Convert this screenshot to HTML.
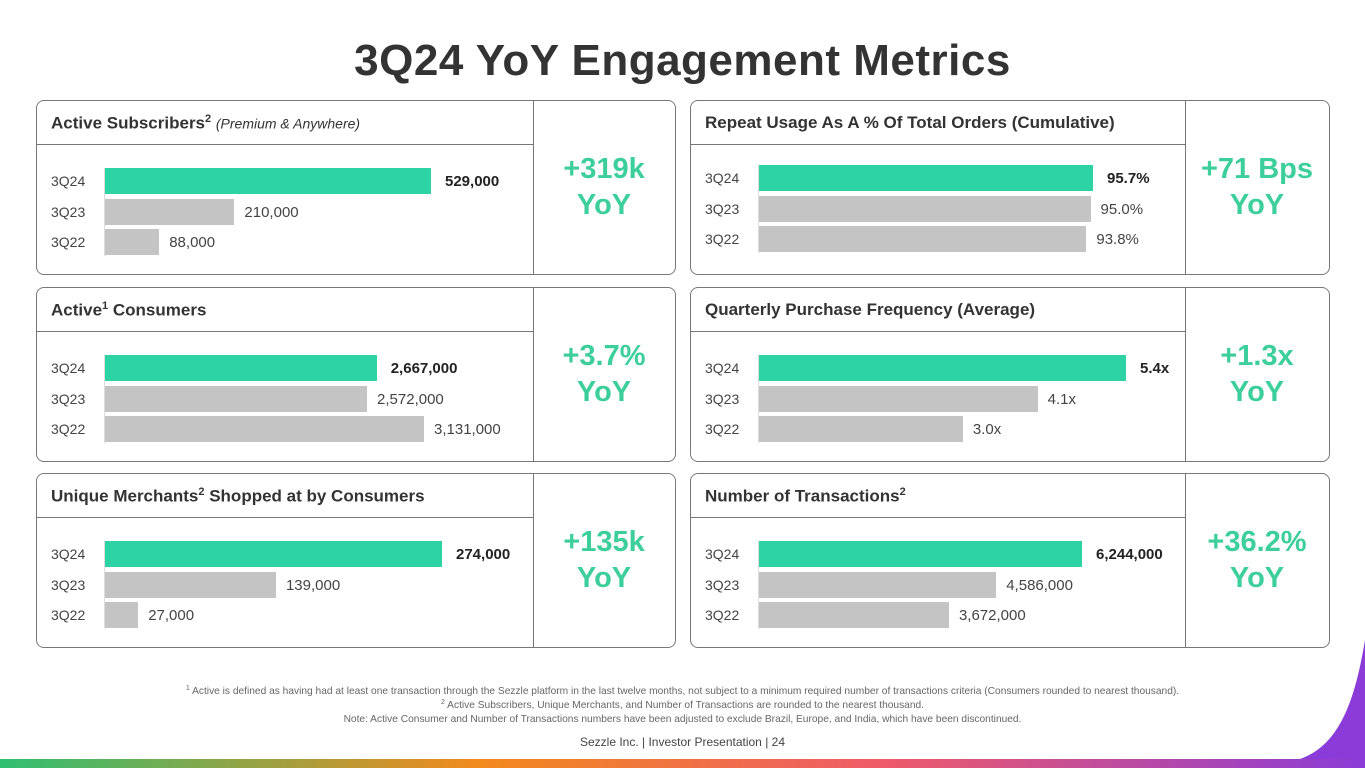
<!DOCTYPE html>
<html><head><meta charset="utf-8"><style>
*{margin:0;padding:0;box-sizing:border-box}
body{width:1365px;height:768px;background:#fff;position:relative;overflow:hidden;font-family:"Liberation Sans",sans-serif;color:#333}
h1{position:absolute;top:36px;left:0;width:1365px;text-align:center;font-size:44px;font-weight:bold;color:#333;letter-spacing:0.5px}
.panel{position:absolute;width:640px;height:175px;border:1.5px solid #777;border-radius:8px}
.sep{position:absolute;top:0;bottom:0;width:0;border-left:1.5px solid #777}
.hline{position:absolute;left:0;top:43px;height:0;border-top:1.5px solid #777}
.ptitle{position:absolute;left:14px;top:12px;font-size:17px;font-weight:bold;color:#333}
.ptitle i{font-weight:normal;font-size:14px}
.ptitle sup{font-size:11px}
.yoy{position:absolute;top:50px;text-align:center;font-size:29px;font-weight:bold;color:#3ccf9b;line-height:36px}
.lbl{position:absolute;font-size:14px;color:#444}
.bar{position:absolute;height:26px}
.val{position:absolute;font-size:15px;color:#444}
.foot{position:absolute;left:0;width:1365px;text-align:center;font-size:10.2px;color:#666;line-height:12px}
.foot sup{font-size:7px;line-height:0;vertical-align:4px}
</style></head><body>
<h1>3Q24 YoY Engagement Metrics</h1>
<div id="root"></div>
<div class="foot" style="top:686px"><sup>1</sup> Active is defined as having had at least one transaction through the Sezzle platform in the last twelve months, not subject to a minimum required number of transactions criteria (Consumers rounded to nearest thousand).</div>
<div class="foot" style="top:700px"><sup>2</sup> Active Subscribers, Unique Merchants, and Number of Transactions are rounded to the nearest thousand.</div>
<div class="foot" style="top:714px">Note: Active Consumer and Number of Transactions numbers have been adjusted to exclude Brazil, Europe, and India, which have been discontinued.</div>
<div class="foot" style="top:735px;font-size:12px;color:#444;line-height:14px">Sezzle Inc. | Investor Presentation | 24</div>
<svg style="position:absolute;left:0;top:0" width="1365" height="768">
<defs><linearGradient id="g" x1="0" x2="1"><stop offset="0" stop-color="#2fbf71"/><stop offset="0.35" stop-color="#f28a1c"/><stop offset="0.65" stop-color="#ee5a6a"/><stop offset="1" stop-color="#8a3bd8"/></linearGradient></defs>
<rect x="0" y="759" width="1365" height="9" fill="url(#g)"/>
<path d="M1365 640 C1355 700 1340 745 1300 759 L1365 759 Z" fill="#8a3bd8"/>
</svg>
<script>
const titles=['Active Subscribers<sup>2</sup> <i>(Premium &amp; Anywhere)</i>','Repeat Usage As A % Of Total Orders (Cumulative)','Active<sup>1</sup> Consumers','Quarterly Purchase Frequency (Average)','Unique Merchants<sup>2</sup> Shopped at by Consumers','Number of Transactions<sup>2</sup>'];
const categories=['3Q24','3Q23','3Q22'];
const subscribers=[529000,210000,88000];
const repeatUsage=[95.7,95.0,93.8];
const consumers=[2667000,2572000,3131000];
const frequency=[5.4,4.1,3.0];
const merchants=[274000,139000,27000];
const transactions=[6244000,4586000,3672000];
const yoyLabels=['+319k<br>YoY','+71 Bps<br>YoY','+3.7%<br>YoY','+1.3x<br>YoY','+135k<br>YoY','+36.2%<br>YoY'];
const series=[subscribers,repeatUsage,consumers,frequency,merchants,transactions];
const fmt=[v=>v.toLocaleString('en-US'),v=>v.toFixed(1)+'%',v=>v.toLocaleString('en-US'),v=>v.toFixed(1)+'x',v=>v.toLocaleString('en-US'),v=>v.toLocaleString('en-US')];
const names=['active-subscribers','repeat-usage','active-consumers','purchase-frequency','unique-merchants','transactions'];
const scaleMax=[326/529000,334/95.7,319/3131000,367/5.4,337/274000,323/6244000];
const root=document.getElementById('root');
for(let i=0;i<6;i++){
  const col=i%2,row=Math.floor(i/2);
  const p=document.createElement('div');p.className='panel';
  
  
  const left=col?690:36, top=[100,287,473][row];
  p.style.left=left+'px';p.style.top=top+'px';
  const sepX=col?494:496;
  p.innerHTML=`<div class="hline" style="width:${sepX}px"></div><div class="sep" style="left:${sepX}px"></div>`;
  const t=document.createElement('div');t.className='ptitle';t.innerHTML=titles[i];
  
  
  p.appendChild(t);
  const y=document.createElement('div');y.className='yoy';y.innerHTML=yoyLabels[i];
  y.style.left=sepX+'px';y.style.width=(638-sepX)+'px';
  
  
  p.appendChild(y);
  const x0=68, y0=(i==1)?64:67;
  const ax=document.createElement('div');
  ax.style.cssText=`position:absolute;left:${x0-1}px;top:${y0}px;width:1px;height:88px;background:#ddd`;
  
  
  p.appendChild(ax);
  series[i].forEach((v,k)=>{
    const by=y0+k*30.5, w=v*scaleMax[i];
    const l=document.createElement('div');l.className='lbl';l.textContent=categories[k];
    l.style.left='14px';l.style.top=(by+5)+'px';
    
    
    p.appendChild(l);
    const b=document.createElement('div');b.className='bar';
    b.style.left=x0+'px';b.style.top=by+'px';b.style.width=w+'px';
    b.style.background=k==0?'#2ed3a5':'#c4c4c4';
    
    
    p.appendChild(b);
    const vl=document.createElement('div');vl.className='val';vl.textContent=fmt[i](v);
    vl.style.left=(x0+w+(k==0?14:10))+'px';vl.style.top=(by+5)+'px';
    if(k==0){vl.style.fontWeight='bold';vl.style.color='#222';}
    
    
    p.appendChild(vl);
  });
  root.appendChild(p);
}
</script>
</body></html>
